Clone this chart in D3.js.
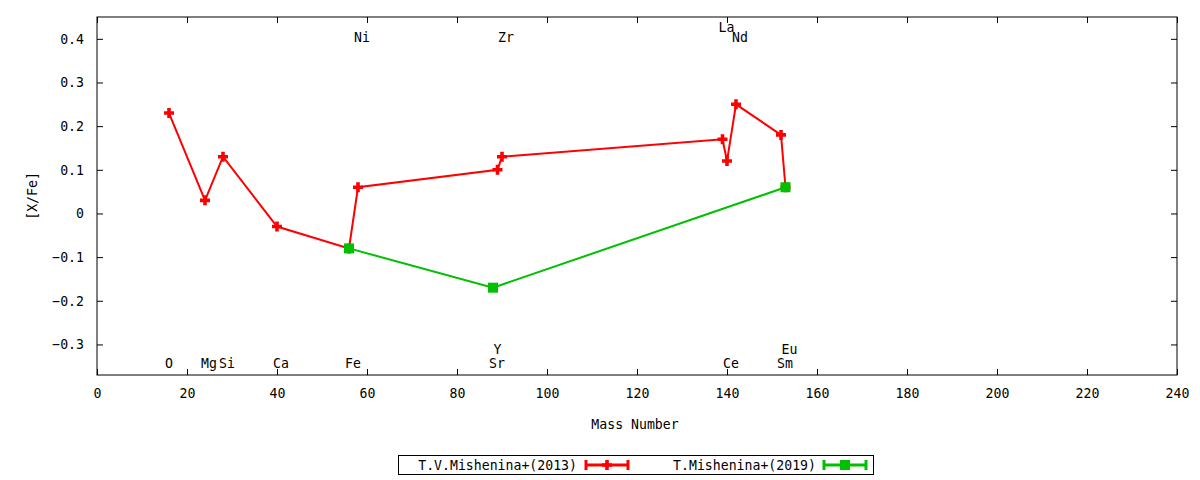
<!DOCTYPE html>
<html>
<head>
<meta charset="utf-8">
<script src="https://cdn.jsdelivr.net/npm/d3@7"></script>
<style>
  body { margin: 0; background: #fff; }
  text { font-family: "DejaVu Sans Mono", monospace; font-size: 13.2px; fill: #000; }
</style>
</head>
<body>
<div class="canva"></div>
<script>
var width = 1200;
var height = 480;

// series: mass number and [X/Fe]
const mass2013 = [16, 24, 28, 40, 56, 58, 89, 90, 139, 140, 142, 152, 153];
const val2013 = [0.23, 0.03, 0.13, -0.03, -0.08, 0.06, 0.10, 0.13, 0.17, 0.12, 0.25, 0.18, 0.06];
const mass2019 = [56, 88, 153];
const val2019 = [-0.08, -0.17, 0.06];

// element labels (row 0 = bottom, 1 = above bottom, 2 = top, 3 = above top)
const elements = ['O', 'Mg', 'Si', 'Ca', 'Fe', 'Ni', 'Sr', 'Y', 'Zr', 'La', 'Ce', 'Nd', 'Sm', 'Eu'];
const elemMass = [16, 24, 28, 40, 56, 58, 88, 89, 90, 139, 140, 142, 152, 153];
const elemRow = [0, 0, 0, 0, 0, 2, 0, 1, 2, 3, 0, 2, 0, 1];

const xTicks = [0, 20, 40, 60, 80, 100, 120, 140, 160, 180, 200, 220, 240];
const yTicks = [-0.3, -0.2, -0.1, 0, 0.1, 0.2, 0.3, 0.4];
const seriesNames = ['T.V.Mishenina+(2013)', 'T.Mishenina+(2019)'];

const mLeft = 97, mRight = 1177, mTop = 17, mBottom = 375;

const svg = d3.select('.canva').append('svg')
            .attr('width', width)
            .attr('height', height);

const x = d3.scaleLinear().domain([0, 240]).range([mLeft, mRight]);
const y = d3.scaleLinear().domain([-0.37, 0.45]).range([mBottom, mTop]);

const fmt = d => d === 0 ? '0' : d3.format('.1f')(d);

// axes, ticks drawn inward and mirrored
svg.append('g').attr('transform', `translate(0,${mBottom})`)
   .call(d3.axisBottom(x).tickValues(xTicks).tickSizeInner(-6).tickSizeOuter(0).tickPadding(14));
svg.append('g').attr('transform', `translate(0,${mTop})`)
   .call(d3.axisTop(x).tickValues(xTicks).tickSizeInner(-6).tickSizeOuter(0).tickFormat(''));
svg.append('g').attr('transform', `translate(${mLeft},0)`)
   .call(d3.axisLeft(y).tickValues(yTicks).tickSizeInner(-6).tickSizeOuter(0).tickPadding(13).tickFormat(fmt));
svg.append('g').attr('transform', `translate(${mRight},0)`)
   .call(d3.axisRight(y).tickValues(yTicks).tickSizeInner(-6).tickSizeOuter(0).tickFormat(''));

svg.selectAll('.domain').remove();
svg.selectAll('.tick line').attr('stroke', '#000');
svg.selectAll('.tick text').style('font-family', '"DejaVu Sans Mono", monospace').style('font-size', '13.2px');

svg.append('rect')
   .attr('x', mLeft).attr('y', mTop)
   .attr('width', mRight - mLeft).attr('height', mBottom - mTop)
   .attr('fill', 'none').attr('stroke', '#000').attr('stroke-width', 1);

// axis titles
svg.append('text').attr('x', 635).attr('y', 429).attr('text-anchor', 'middle').text('Mass Number');
svg.append('text').attr('transform', 'translate(37,196) rotate(-90)')
   .attr('text-anchor', 'middle').text('[X/Fe]');

// element labels
const rowY = [-0.343, -0.311, 0.404, 0.427];
svg.selectAll('.elem')
   .data(elements)
   .enter().append('text')
   .attr('class', 'elem')
   .attr('x', (d, i) => x(elemMass[i]) - 4)
   .attr('y', (d, i) => y(rowY[elemRow[i]]))
   .attr('dy', '0.35em')
   .text(d => d);

const plusPath = 'M-1.8,-5H1.8V-1.8H5V1.8H1.8V5H-1.8V1.8H-5V-1.8H-1.8Z';
const line = d3.line().x(d => x(d[0])).y(d => y(d[1]));

function drawSeries(masses, vals, color, marker) {
  const pts = masses.map((m, i) => [m, vals[i]]);
  svg.append('path').datum(pts)
     .attr('d', line)
     .attr('fill', 'none')
     .attr('stroke', color)
     .attr('stroke-width', 2);
  const g = svg.append('g');
  if (marker === 'plus') {
    g.selectAll('path').data(pts).enter().append('path')
     .attr('d', plusPath)
     .attr('transform', d => `translate(${x(d[0])},${y(d[1])})`)
     .attr('fill', color);
  } else {
    g.selectAll('rect').data(pts).enter().append('rect')
     .attr('x', d => x(d[0]) - 5).attr('y', d => y(d[1]) - 5)
     .attr('width', 10).attr('height', 10)
     .attr('fill', color);
  }
}

drawSeries(mass2013, val2013, '#ff0000', 'plus');
drawSeries(mass2019, val2019, '#00c000', 'square');

// legend
svg.append('rect').attr('x', 398.5).attr('y', 455.5).attr('width', 475).attr('height', 19)
   .attr('fill', 'none').attr('stroke', '#000');

const legendItems = [
  {name: seriesNames[0], color: '#ff0000', marker: 'plus', textEnd: 577, x0: 586, x1: 628},
  {name: seriesNames[1], color: '#00c000', marker: 'square', textEnd: 816, x0: 824, x1: 866}
];
legendItems.forEach(it => {
  svg.append('text').attr('x', it.textEnd).attr('y', 465).attr('dy', '0.35em')
     .attr('text-anchor', 'end').text(it.name);
  const lg = svg.append('g').attr('stroke', it.color).attr('stroke-width', 3);
  lg.append('line').attr('x1', it.x0).attr('x2', it.x1).attr('y1', 465).attr('y2', 465);
  lg.append('line').attr('x1', it.x0).attr('x2', it.x0).attr('y1', 460).attr('y2', 470);
  lg.append('line').attr('x1', it.x1).attr('x2', it.x1).attr('y1', 460).attr('y2', 470);
  const cx = (it.x0 + it.x1) / 2;
  if (it.marker === 'plus') {
    svg.append('path').attr('d', plusPath).attr('transform', `translate(${cx},465)`).attr('fill', it.color);
  } else {
    svg.append('rect').attr('x', cx - 5).attr('y', 460).attr('width', 10).attr('height', 10).attr('fill', it.color);
  }
});
</script>
</body>
</html>
